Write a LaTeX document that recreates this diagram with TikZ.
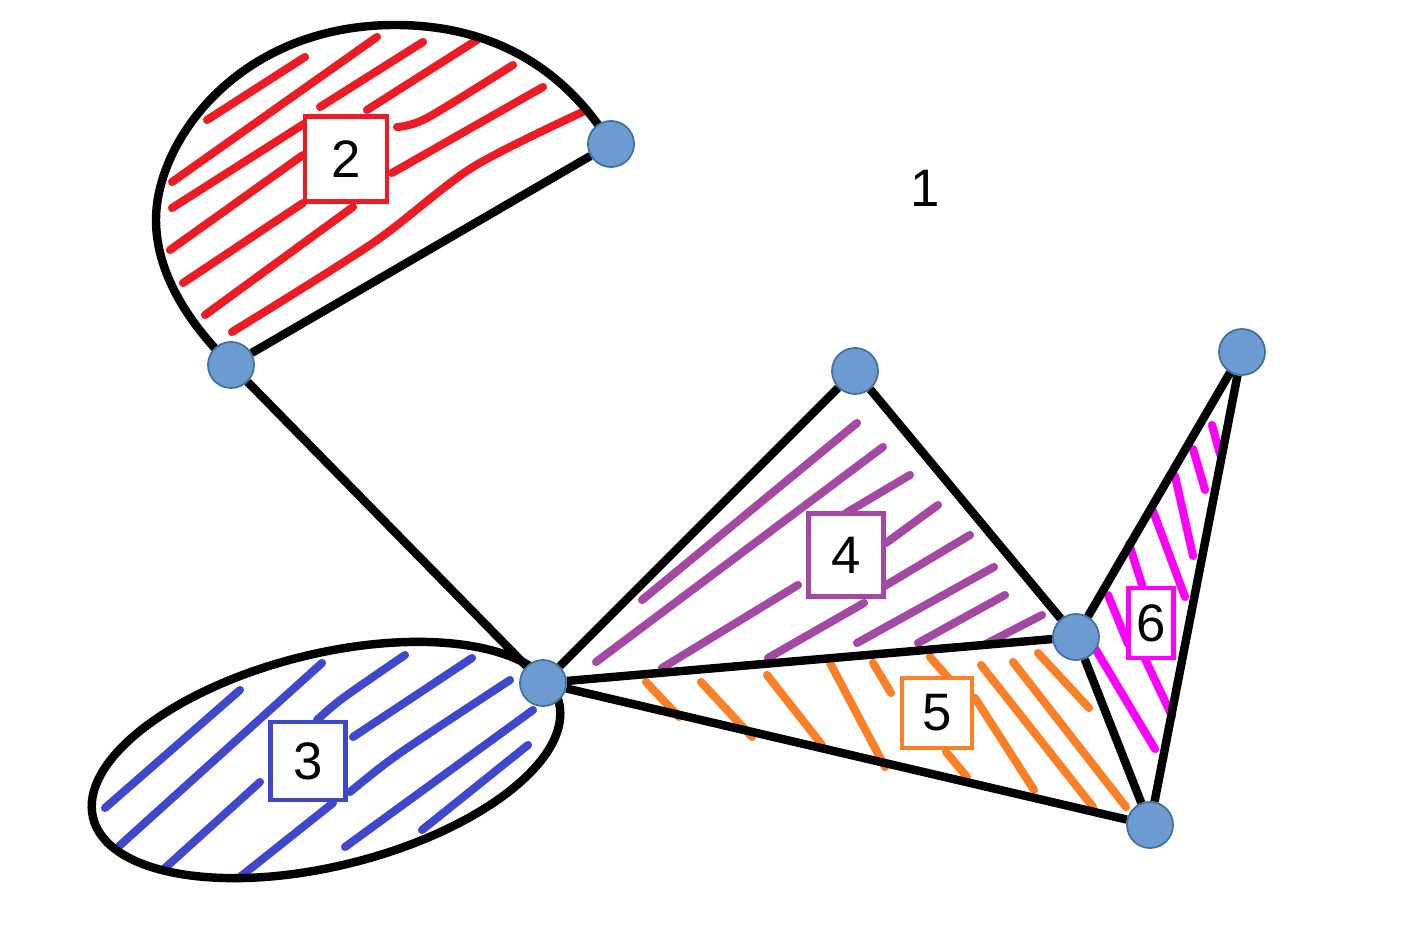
\documentclass[tikz,border=0pt]{standalone}
\usepackage{fontspec}
\setmainfont{Liberation Sans}
\definecolor{vfill}{HTML}{6C9BD2}
\definecolor{vdraw}{HTML}{41719C}
\definecolor{hred}{HTML}{ED1C24}
\definecolor{hblue}{HTML}{3F48CC}
\definecolor{hpurple}{HTML}{A349A4}
\definecolor{horange}{HTML}{FF7F27}
\definecolor{hmagenta}{HTML}{FF00FF}
\tikzset{
	vertex/.style={circle,fill=vfill,draw=vdraw,line width=.5pt,minimum size=.46cm,inner sep=0pt},
	edge/.style={line width=2.4pt},
	hatch/.style={line width=2.3pt,line cap=round,line join=round},
	tag/.style={draw=#1,line width=1.2pt,fill=white,inner sep=0pt,font=\fontsize{15}{18}\selectfont},
}
\begin{document}
\begin{tikzpicture}[x=0.01cm,y=-0.01cm]
	\useasboundingbox (0,0) rectangle (1425,934);
	% face 2
	\foreach \xa/\ya/\xb/\yb in {207/120/305/57,172/182/377/37,172/208/307/122,320/107/423/42,367/110/477/40,392/173/543/87,170/250/303/155,183/283/303/203,205/315/353/207}
	\draw[hatch,hred] (\xa,\ya) -- (\xb,\yb);
	\draw[hatch,hred] plot[smooth] coordinates {(397,127) (427,118) (513,65)};
	\draw[hatch,hred] plot[smooth] coordinates {(232,332) (373,243) (473,167) (587,110)};
	% face 3
	\foreach \xa/\ya/\xb/\yb in {105/808/240/690,117/848/322/663,165/868/260/782,353/737/472/658,240/877/333/803,345/847/533/710,422/830/528/745}
	\draw[hatch,hblue] (\xa,\ya) -- (\xb,\yb);
	\draw[hatch,hblue] plot[smooth] coordinates {(317,720) (343,698) (405,655)};
	\draw[hatch,hblue] plot[smooth] coordinates {(350,792) (400,753) (510,680)};
	% face 4
	\foreach \xa/\ya/\xb/\yb in {642/600/857/423,596/662/883/447,662/668/798/585,846/513/910/475,886/543/938/505,883/587/970/535,768/658/864/603,857/643/994/567,918/643/1005/595,984/645/1042/615}
	\draw[hatch,hpurple] (\xa,\ya) -- (\xb,\yb);
	% face 5
	\foreach \xa/\ya/\xb/\yb in {646/682/679/717,701/682/752/737,767/675/822/745,830/663/885/767,873/663/891/693,930/657/952/682,946/752/967/777,975/698/1034/790,981/665/1093/807,1013/662/1126/807,1038/653/1089/708}
	\draw[hatch,horange] (\xa,\ya) -- (\xb,\yb);
	% face 6
	\foreach \xa/\ya/\xb/\yb in {1212/425/1220/454,1193/449/1205/490,1175/476/1193/556,1153/511/1185/597,1129/544/1143/588,1108/595/1128/644,1093/645/1155/749,1145/659/1172/716}
	\draw[hatch,hmagenta] (\xa,\ya) -- (\xb,\yb);
	% outer curves
	\draw[edge,rotate around={14:(326,760)}] (326,760) ellipse [x radius=240,y radius=106];
	\draw[edge] (231,365) .. controls (185,320) and (156,270) .. (156,220) .. controls (156,140) and (240,25) .. (395,25) .. controls (510,25) and (575,85) .. (611,144);
	% vertices
	\node[vertex] (va) at (611,144) {};
	\node[vertex] (vb) at (231,365) {};
	\node[vertex] (vc) at (543,683) {};
	\node[vertex] (vd) at (855,371) {};
	\node[vertex] (ve) at (1076,637) {};
	\node[vertex] (vf) at (1242,352) {};
	\node[vertex] (vg) at (1150,825) {};
	\draw[edge] (va) -- (vb);
	\draw[edge] (vb) -- (vc);
	\draw[edge] (vc) -- (vd) -- (ve) -- (vc);
	\draw[edge] (vc) -- (vg) -- (ve);
	\draw[edge] (ve) -- (vf) -- (vg);
	% labels
	\node[font=\fontsize{15}{18}\selectfont] (f1) at (925,188) {1};
	\node[tag=hred,minimum width=.82cm,minimum height=.85cm] (f2) at (346,159) {2};
	\node[tag=hblue,minimum width=.75cm,minimum height=.78cm] (f3) at (308,761) {3};
	\node[tag=hpurple,minimum width=.75cm,minimum height=.83cm] (f4) at (846,555) {4};
	\node[tag=horange,minimum width=.70cm,minimum height=.70cm] (f5) at (937,713) {5};
	\node[tag=hmagenta,minimum width=.45cm,minimum height=.70cm] (f6) at (1151,623) {6};
\end{tikzpicture}
\end{document}
